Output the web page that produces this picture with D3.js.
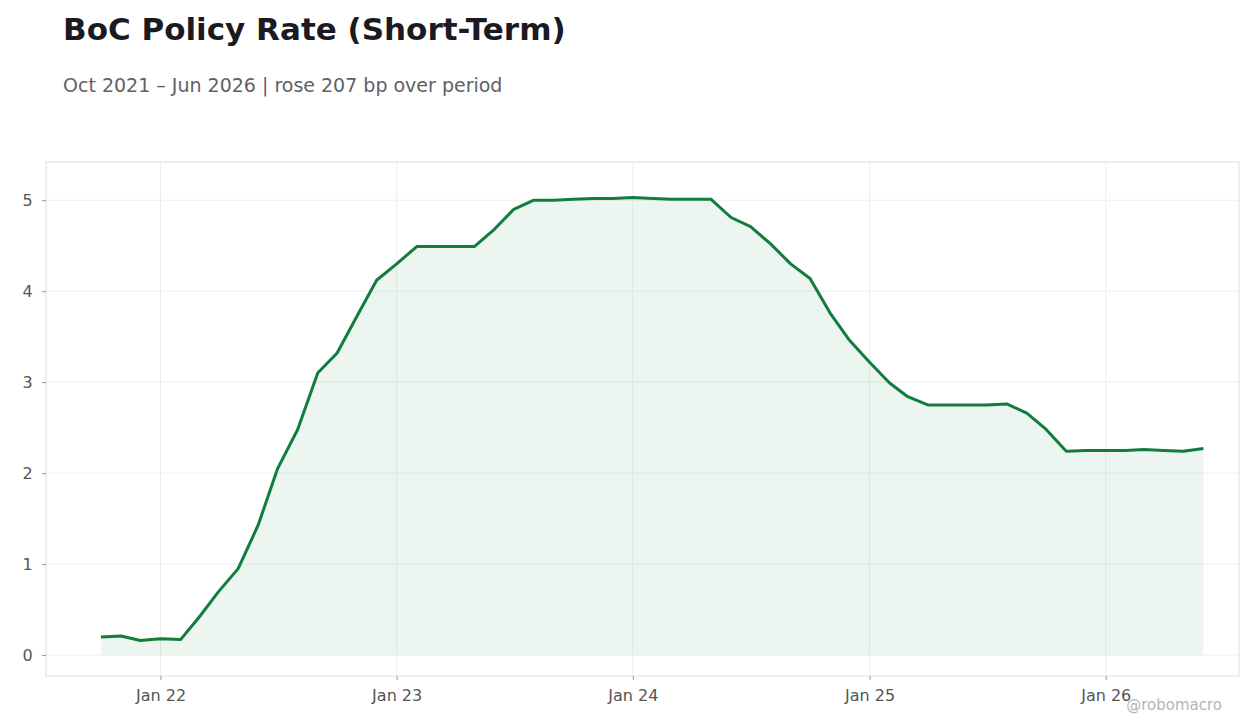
<!doctype html>
<html lang="en">
<head>
<meta charset="utf-8">
<style>
body{margin:0;background:#fff;font-family:"DejaVu Sans",sans-serif;}
</style>
</head>
<body>
<svg id="chart" width="1260" height="728"></svg>
<script src="https://d3js.org/d3.v7.min.js"></script>
<script>
// monthly, Oct 2021 .. Jun 2026
var startMonth = new Date(2021, 9, 1);
var rates = [0.20,0.21,0.16,0.18,0.17,0.41,0.70,0.95,1.43,2.05,2.48,3.10,3.32,3.73,4.12,
  4.30,4.49,4.49,4.49,4.49,4.68,4.90,5.00,5.00,5.01,5.02,5.02,
  5.03,5.02,5.01,5.01,5.01,4.81,4.71,4.52,4.30,4.14,3.76,3.46,
  3.22,2.99,2.84,2.75,2.75,2.75,2.75,2.76,2.66,2.48,2.24,2.25,
  2.25,2.25,2.26,2.25,2.24,2.27];
var yTicks = [0,1,2,3,4,5];
var xTicks = [new Date(2022,0,1),new Date(2023,0,1),new Date(2024,0,1),new Date(2025,0,1),new Date(2026,0,1)];
var xTickLabels = ["Jan 22","Jan 23","Jan 24","Jan 25","Jan 26"];

var data = rates.map(function(v,i){ return {date:d3.timeMonth.offset(startMonth,i), value:v}; });

var svg = d3.select("#chart");
var L=46, R=1239, T=162, B=676;

var x = d3.scaleTime().domain([new Date(2021,6,8), new Date(2026,6,26)]).range([L,R]);
var y = d3.scaleLinear().domain([-0.23,5.42]).range([B,T]);

svg.append("text").attr("x",63).attr("y",40).text("BoC Policy Rate (Short-Term)")
  .attr("font-size",31).attr("font-weight","bold").attr("fill","#1a1a1f");
svg.append("text").attr("x",63).attr("y",92).text("Oct 2021 – Jun 2026 | rose 207 bp over period")
  .attr("font-size",19).attr("fill","#5f6068");

// grid
svg.selectAll(".gy").data(yTicks).enter().append("line")
  .attr("x1",L).attr("x2",R).attr("y1",function(d){return y(d);}).attr("y2",function(d){return y(d);})
  .attr("stroke","#eee").attr("stroke-width",1);
svg.selectAll(".gx").data(xTicks).enter().append("line")
  .attr("y1",T).attr("y2",B).attr("x1",function(d){return x(d);}).attr("x2",function(d){return x(d);})
  .attr("stroke","#eee").attr("stroke-width",1);

svg.append("rect").attr("x",L).attr("y",T).attr("width",R-L).attr("height",B-T)
  .attr("fill","none").attr("stroke","#ddd");

svg.append("path").datum(data)
  .attr("d",d3.area().x(function(d){return x(d.date);}).y0(y(0)).y1(function(d){return y(d.value);}))
  .attr("fill","#127c3c").attr("fill-opacity",0.08);
svg.append("path").datum(data)
  .attr("d",d3.line().x(function(d){return x(d.date);}).y(function(d){return y(d.value);}))
  .attr("fill","none").attr("stroke","#127c3c").attr("stroke-width",3).attr("stroke-linejoin","round");

var yAxis = svg.append("g").attr("transform","translate("+L+",0)")
  .call(d3.axisLeft(y).tickValues(yTicks).tickSize(4).tickFormat(d3.format("d")));
var xAxis = svg.append("g").attr("transform","translate(0,"+B+")")
  .call(d3.axisBottom(x).tickValues(xTicks).tickSize(4).tickFormat(function(d,i){return xTickLabels[i];}));
[yAxis,xAxis].forEach(function(a){
  a.select(".domain").remove();
  a.selectAll("line").attr("stroke","#999");
  a.selectAll("text").attr("fill","#555").attr("font-size",16).attr("font-family","DejaVu Sans");
});
xAxis.selectAll("text").attr("dy","1.1em");
yAxis.selectAll("text").attr("dx","-0.4em");

svg.append("text").attr("x",1222).attr("y",710).attr("text-anchor","end")
  .text("@robomacro").attr("font-size",15).attr("fill","#b5b5b5");
</script>
</body>
</html>
